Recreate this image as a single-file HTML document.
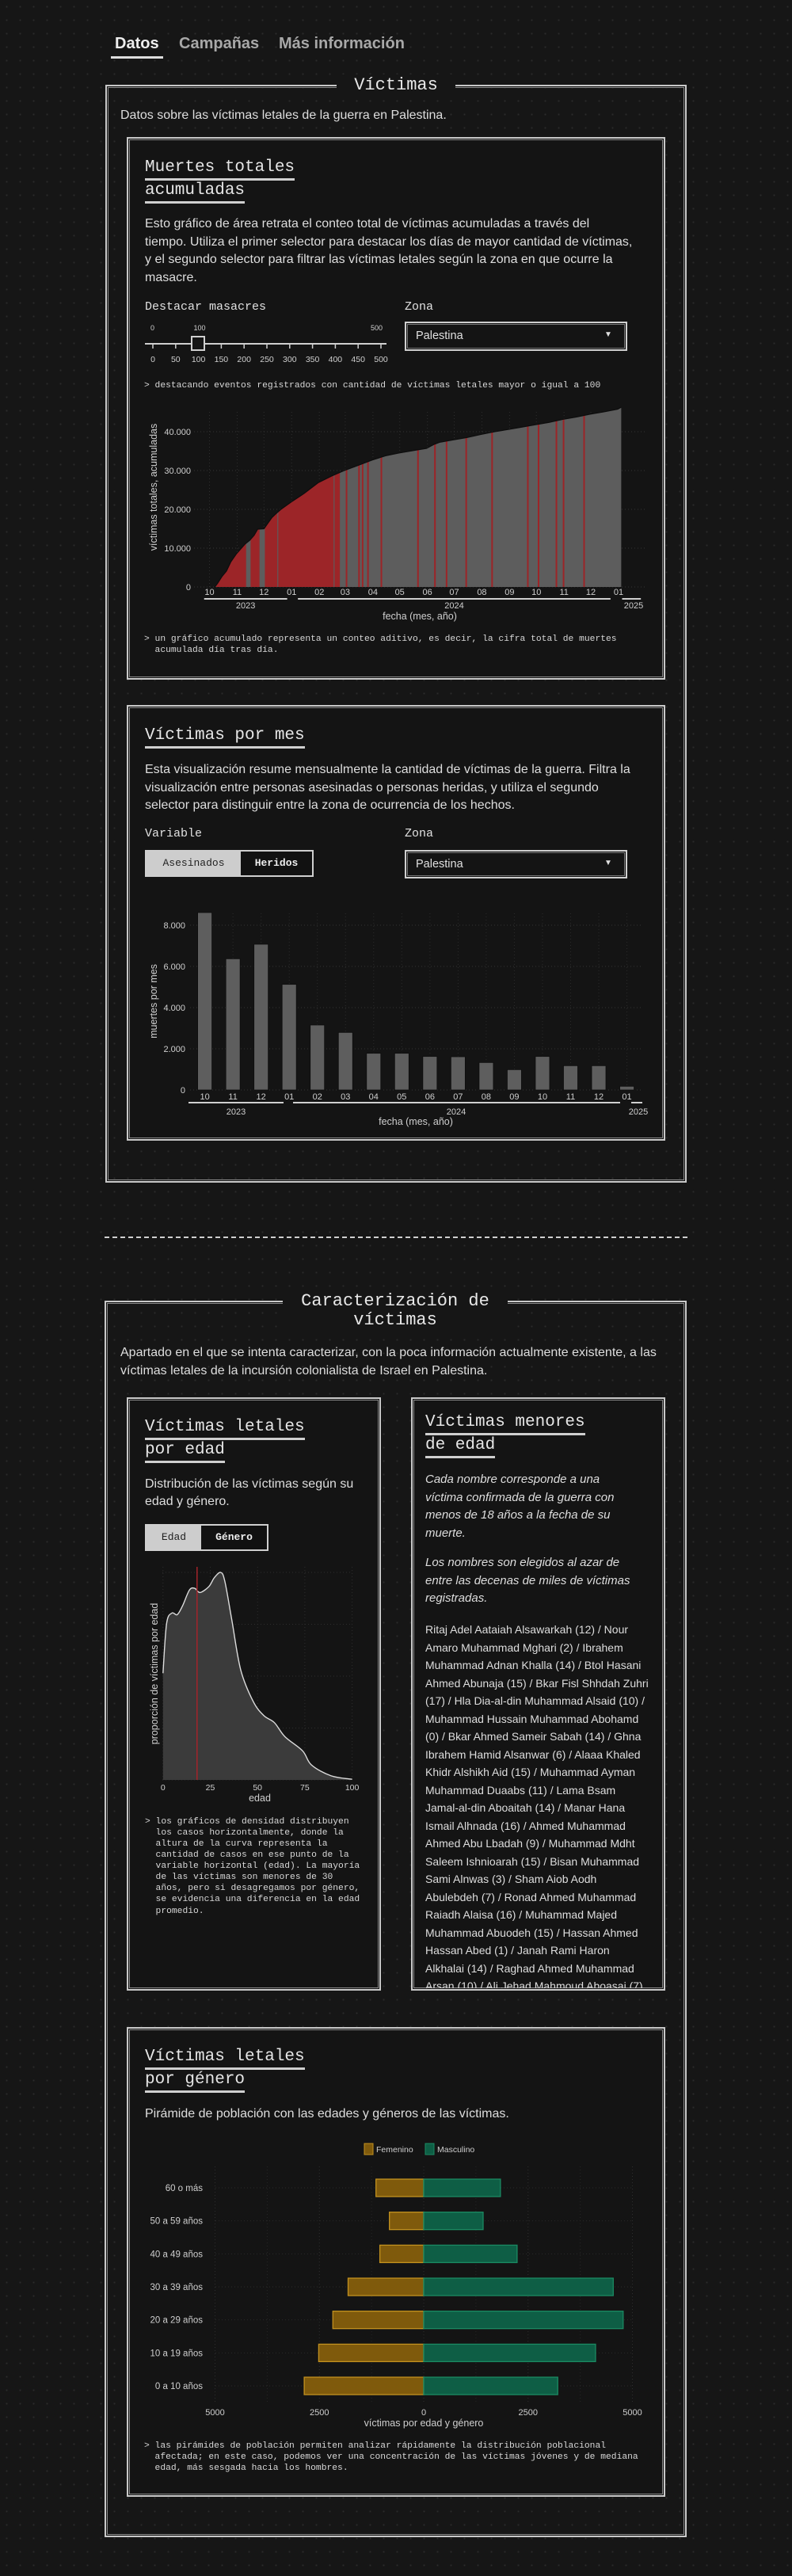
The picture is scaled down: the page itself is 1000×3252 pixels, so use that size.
<!DOCTYPE html>
<html lang="es"><head><meta charset="utf-8"><title>Víctimas</title>
<style>
html,body{margin:0;padding:0}
body{width:1000px;height:3252px;position:relative;overflow:hidden;background-color:#161616;background-image:radial-gradient(circle,#2b2b2b 1px,transparent 1.2px);background-size:17px 17px;color:#e2e2e2;font-family:"Liberation Sans",sans-serif}
.a{position:absolute;white-space:nowrap}
.mono{font-family:"Liberation Mono",monospace}
.box{position:absolute;border:2px solid #c9c9c9;box-shadow:inset 0 0 0 1px #151515,inset 0 0 0 2px #8a8a8a;box-sizing:border-box}
.card{background:#141414}
.h{font-family:"Liberation Mono",monospace;font-size:21px;line-height:26px;color:#e6e6e6;display:inline-block;border-bottom:3px solid #cfcfcf}
.p{font-size:16px;color:#dedede}
.note{font-family:"Liberation Mono",monospace;font-size:11.3px;color:#d8d8d8}
.lbl{font-family:"Liberation Mono",monospace;font-size:15px;line-height:20px;color:#e0e0e0}
.sel{position:absolute;border:2px solid #cfcfcf;box-shadow:inset 0 0 0 1px #151515,inset 0 0 0 2px #777;box-sizing:border-box;background:#141414;font-size:14.5px;color:#e0e0e0}
svg{position:absolute;left:0;overflow:visible}
svg text{font-family:"Liberation Sans",sans-serif;fill:#cfcfcf}
</style></head><body>

<div class="a" style="left:145px;top:44px;font-size:20px;font-weight:bold;color:#eee;line-height:22px">Datos</div>
<div class="a" style="left:140px;top:71px;width:66px;height:3px;background:#ddd"></div>
<div class="a" style="left:226px;top:44px;font-size:20px;font-weight:bold;color:#a8a8a8;line-height:22px">Campañas</div>
<div class="a" style="left:352px;top:44px;font-size:20px;font-weight:bold;color:#a8a8a8;line-height:22px">Más información</div>

<!-- Section 1 -->
<div class="box" style="left:133px;top:107px;width:734px;height:1386px"></div>
<div class="a mono" style="left:425px;width:150px;text-align:center;top:94px;font-size:22px;line-height:28px;background:#161616;color:#e8e8e8">Víctimas</div>
<div class="a p" style="left:152px;top:136px;line-height:20px">Datos sobre las víctimas letales de la guerra en Palestina.</div>

<div class="box card" style="left:160px;top:173px;width:680px;height:685px"></div>
<div class="a" style="left:183px;top:199px"><span class="h">Muertes totales</span><br><span class="h" style="margin-top:0">acumuladas</span></div>
<div class="a p" style="left:183px;top:272px;line-height:22.7px">Esto gráfico de área retrata el conteo total de víctimas acumuladas a través del<br>tiempo. Utiliza el primer selector para destacar los días de mayor cantidad de víctimas,<br>y el segundo selector para filtrar las víctimas letales según la zona en que ocurre la<br>masacre.</div>
<div class="a lbl" style="left:183px;top:378px">Destacar masacres</div>
<div class="a lbl" style="left:511px;top:378px">Zona</div>

<svg width="1000" height="70" style="top:400px">
<g transform="translate(0,-400)">
<text x="190" y="417" font-size="9">0</text><text x="252" y="417" font-size="9" text-anchor="middle">100</text><text x="483" y="417" font-size="9" text-anchor="end">500</text>
<line x1="183" y1="434" x2="488" y2="434" stroke="#cfcfcf" stroke-width="2"/>
<g id="slider-ticks"></g>
<rect x="242" y="425" width="16" height="17" fill="#151515" stroke="#cfcfcf" stroke-width="2"/>
</g></svg>

<div class="sel" style="left:511px;top:406px;width:281px;height:37px"><span class="a" style="left:12px;top:8px">Palestina</span><span class="a" style="left:250px;top:9px;font-size:10px">▼</span></div>
<div class="a note" style="left:182px;top:479px;line-height:16px">&gt; destacando eventos registrados con cantidad de víctimas letales mayor o igual a 100</div>

<svg id="area-svg" width="1000" height="310" style="top:500px"><g id="area-g" transform="translate(0,-500)"></g></svg>

<div class="a note" style="left:182px;top:800px;line-height:14px">&gt; un gráfico acumulado representa un conteo aditivo, es decir, la cifra total de muertes<br>&nbsp;&nbsp;acumulada día tras día.</div>

<div class="box card" style="left:160px;top:890px;width:680px;height:550px"></div>
<div class="a" style="left:183px;top:916px"><span class="h">Víctimas por mes</span></div>
<div class="a p" style="left:183px;top:961px;line-height:22.7px">Esta visualización resume mensualmente la cantidad de víctimas de la guerra. Filtra la<br>visualización entre personas asesinadas o personas heridas, y utiliza el segundo<br>selector para distinguir entre la zona de ocurrencia de los hechos.</div>
<div class="a lbl" style="left:183px;top:1043px">Variable</div>
<div class="a lbl" style="left:511px;top:1043px">Zona</div>
<div class="sel" style="left:183px;top:1073px;width:213px;height:34px"></div>
<div class="a mono" style="left:185px;top:1075px;width:119px;height:30px;background:#cdcdcd;color:#222;font-size:13px;line-height:30px;text-align:center">Asesinados</div>
<div class="a mono" style="left:304px;top:1075px;width:90px;height:30px;background:#111;color:#eee;font-weight:bold;font-size:13px;line-height:30px;text-align:center">Heridos</div>
<div class="sel" style="left:511px;top:1073px;width:281px;height:36px"><span class="a" style="left:12px;top:8px">Palestina</span><span class="a" style="left:250px;top:9px;font-size:10px">▼</span></div>

<svg id="bar-svg" width="1000" height="290" style="top:1140px"><g id="bar-g" transform="translate(0,-1140)"></g></svg>

<div class="a" style="left:132px;top:1561px;width:736px;border-top:2px dashed #cfcfcf"></div>

<!-- Section 2 -->
<div class="box" style="left:132px;top:1642px;width:735px;height:1561px"></div>
<div class="a mono" style="left:357px;width:284px;text-align:center;top:1631px;font-size:22px;line-height:24px;background:#161616;color:#e8e8e8">Caracterización de<br>víctimas</div>
<div class="a p" style="left:152px;top:1696px;line-height:23px">Apartado en el que se intenta caracterizar, con la poca información actualmente existente, a las<br>víctimas letales de la incursión colonialista de Israel en Palestina.</div>

<div class="box card" style="left:160px;top:1764px;width:321px;height:749px"></div>
<div class="a" style="left:183px;top:1789px"><span class="h">Víctimas letales</span><br><span class="h">por edad</span></div>
<div class="a p" style="left:183px;top:1863px;line-height:22px">Distribución de las víctimas según su<br>edad y género.</div>
<div class="sel" style="left:183px;top:1924px;width:156px;height:34px"></div>
<div class="a mono" style="left:185px;top:1926px;width:69px;height:30px;background:#cdcdcd;color:#222;font-size:13px;line-height:30px;text-align:center">Edad</div>
<div class="a mono" style="left:254px;top:1926px;width:83px;height:30px;background:#111;color:#eee;font-weight:bold;font-size:13px;line-height:30px;text-align:center">Género</div>
<svg id="dens-svg" width="1000" height="330" style="top:1960px"><g id="dens-g" transform="translate(0,-1960)"></g></svg>
<div class="a note" style="left:183px;top:2293px;line-height:14.06px">&gt; los gráficos de densidad distribuyen<br>&nbsp;&nbsp;los casos horizontalmente, donde la<br>&nbsp;&nbsp;altura de la curva representa la<br>&nbsp;&nbsp;cantidad de casos en ese punto de la<br>&nbsp;&nbsp;variable horizontal (edad). La mayoría<br>&nbsp;&nbsp;de las víctimas son menores de 30<br>&nbsp;&nbsp;años, pero si desagregamos por género,<br>&nbsp;&nbsp;se evidencia una diferencia en la edad<br>&nbsp;&nbsp;promedio.</div>

<div class="box card" style="left:519px;top:1764px;width:321px;height:749px;overflow:hidden"></div>
<div class="a" style="left:537px;top:1783px"><span class="h">Víctimas menores</span><br><span class="h">de edad</span></div>
<div class="a p" style="left:537px;top:1857px;line-height:22.6px;font-style:italic;font-size:15px">Cada nombre corresponde a una<br>víctima confirmada de la guerra con<br>menos de 18 años a la fecha de su<br>muerte.</div>
<div class="a p" style="left:537px;top:1962px;line-height:22.6px;font-style:italic;font-size:15px">Los nombres son elegidos al azar de<br>entre las decenas de miles de víctimas<br>registradas.</div>
<div class="a" style="left:537px;top:2046px;width:300px;height:464px;overflow:hidden;font-size:14px;line-height:22.5px;color:#dedede">Ritaj Adel Aataiah Alsawarkah (12) / Nour<br>Amaro Muhammad Mghari (2) / Ibrahem<br>Muhammad Adnan Khalla (14) / Btol Hasani<br>Ahmed Abunaja (15) / Bkar Fisl Shhdah Zuhri<br>(17) / Hla Dia-al-din Muhammad Alsaid (10) /<br>Muhammad Hussain Muhammad Abohamd<br>(0) / Bkar Ahmed Sameir Sabah (14) / Ghna<br>Ibrahem Hamid Alsanwar (6) / Alaaa Khaled<br>Khidr Alshikh Aid (15) / Muhammad Ayman<br>Muhammad Duaabs (11) / Lama Bsam<br>Jamal-al-din Aboaitah (14) / Manar Hana<br>Ismail Alhnada (16) / Ahmed Muhammad<br>Ahmed Abu Lbadah (9) / Muhammad Mdht<br>Saleem Ishnioarah (15) / Bisan Muhammad<br>Sami Alnwas (3) / Sham Aiob Aodh<br>Abulebdeh (7) / Ronad Ahmed Muhammad<br>Raiadh Alaisa (16) / Muhammad Majed<br>Muhammad Abuodeh (15) / Hassan Ahmed<br>Hassan Abed (1) / Janah Rami Haron<br>Alkhalai (14) / Raghad Ahmed Muhammad<br>Arsan (10) / Ali Jehad Mahmoud Aboasai (7)</div>

<div class="box card" style="left:160px;top:2559px;width:680px;height:593px"></div>
<div class="a" style="left:183px;top:2584px"><span class="h">Víctimas letales</span><br><span class="h">por género</span></div>
<div class="a p" style="left:183px;top:2658px;line-height:22px">Pirámide de población con las edades y géneros de las víctimas.</div>
<svg id="pyr-svg" width="1000" height="380" style="top:2700px"><g id="pyr-g" transform="translate(0,-2700)"></g></svg>
<div class="a note" style="left:182px;top:3081px;line-height:14px">&gt; las pirámides de población permiten analizar rápidamente la distribución poblacional<br>&nbsp;&nbsp;afectada; en este caso, podemos ver una concentración de las víctimas jóvenes y de mediana<br>&nbsp;&nbsp;edad, más sesgada hacia los hombres.</div>

<script>
// ---------- data: cumulative deaths ----------
const cumDates = ['2023-10-07','2023-10-10','2023-10-15','2023-10-20','2023-10-25','2023-10-31','2023-11-05','2023-11-10','2023-11-15','2023-11-20','2023-11-24','2023-12-01','2023-12-05','2023-12-10','2023-12-15','2023-12-20','2023-12-31','2024-01-15','2024-01-31','2024-02-15','2024-02-29','2024-03-15','2024-03-31','2024-04-15','2024-04-30','2024-05-15','2024-05-31','2024-06-08','2024-06-15','2024-06-30','2024-07-15','2024-07-31','2024-08-15','2024-08-31','2024-09-15','2024-09-30','2024-10-15','2024-10-31','2024-11-15','2024-11-30','2024-12-15','2024-12-31','2025-01-04'];
const cumValues = [0,900,2700,4100,6500,8500,9800,11100,12000,13300,14900,15000,16300,17900,19000,20000,21800,24100,26900,28600,30000,31300,32700,33800,34500,35100,35700,36700,37300,37900,38500,39300,40000,40600,41200,41800,42400,43200,43800,44500,45100,45800,46300];
const massacreRanges = [['2023-10-08','2023-11-10'],['2023-11-16','2023-11-25'],['2023-12-02','2023-12-15'],['2023-12-17','2024-02-16'],['2024-02-18','2024-02-23']];
const massacreDays = ['2024-03-02','2024-03-16','2024-03-20','2024-03-26','2024-04-10','2024-05-21','2024-06-09','2024-06-22','2024-07-14','2024-08-12','2024-09-21','2024-10-03','2024-10-23','2024-10-31','2024-11-23'];
const monthTicks = ['2023-10-01','2023-11-01','2023-12-01','2024-01-01','2024-02-01','2024-03-01','2024-04-01','2024-05-01','2024-06-01','2024-07-01','2024-08-01','2024-09-01','2024-10-01','2024-11-01','2024-12-01','2025-01-01'];
const monthLabels = ['10','11','12','01','02','03','04','05','06','07','08','09','10','11','12','01'];
const areaYTicks = [0,10000,20000,30000,40000];
const yearLabels = ['2023','2024','2025'];

// ---------- data: monthly deaths ----------
const barMonths = ['10','11','12','01','02','03','04','05','06','07','08','09','10','11','12','01'];
const barValues = [8615,6372,7077,5128,3154,2795,1782,1782,1628,1615,1333,987,1628,1179,1179,179];
const barYTicks = [0,2000,4000,6000,8000];

// ---------- data: age density ----------
const densAges = [0,1.9,4.7,7.5,10.3,14,16.8,19.6,24.3,27.1,30.5,32.7,36.4,41.1,47.7,53.3,58.9,64.5,73.8,78.5,88.8,100];
const densValues = [0.514,0.753,0.804,0.796,0.838,0.915,0.923,0.903,0.932,0.974,1.0,0.957,0.77,0.53,0.378,0.31,0.276,0.208,0.14,0.072,0.02,0.003];
const densXTicks = [0,25,50,75,100];
const medianAgeMark = 18;

// ---------- data: pyramid ----------
const pyrGroups = ['60 o más','50 a 59 años','40 a 49 años','30 a 39 años','20 a 29 años','10 a 19 años','0 a 10 años'];
const pyrFemale = [1144,822,1051,1812,2177,2516,2863];
const pyrMale = [1838,1423,2237,4541,4778,4117,3211];
const pyrXTicks = [-5000,-2500,0,2500,5000];
const sliderTicks = [0,50,100,150,200,250,300,350,400,450,500];

const NS='http://www.w3.org/2000/svg';
function mk(parent,tag,attrs){const e=document.createElementNS(NS,tag);for(const k in attrs)e.setAttribute(k,attrs[k]);parent.appendChild(e);return e;}
function fmt(v){return String(v).replace(/\B(?=(\d{3})+(?!\d))/g,'.');}

// slider ticks
(function(){
  const g=document.getElementById('slider-ticks');
  const sx=v=>193+v/500*288;
  sliderTicks.forEach(v=>{
    const l=mk(g,'line',{x1:sx(v),x2:sx(v),y1:434,y2:440,stroke:'#cfcfcf','stroke-width':1.5});
    
    
    const t=mk(g,'text',{x:sx(v),y:457,'font-size':10.5,'text-anchor':'middle'});
    
    
    t.textContent=v;
  });
})();

// area chart
(function(){
  const g=document.getElementById('area-g');
  const d0=Date.UTC(2023,9,1);
  const dayOf=s=>{const p=s.split('-').map(Number);return (Date.UTC(p[0],p[1]-1,p[2])-d0)/864e5;};
  const ax=s=>264.5+dayOf(s)*1.1277;
  const ay=v=>741-v*0.0049;
  areaYTicks.forEach(v=>{
    const gl=mk(g,'line',{x1:245,x2:815,y1:ay(v),y2:ay(v),stroke:'#333','stroke-dasharray':'1 3'});
    
    
    const t=mk(g,'text',{x:241,y:ay(v)+4,'font-size':11,'text-anchor':'end'});
    
    
    t.textContent=fmt(v);
  });
  monthTicks.forEach((m,i)=>{
    const gl=mk(g,'line',{x1:ax(m),x2:ax(m),y1:520,y2:741,stroke:'#2e2e2e','stroke-dasharray':'1 3'});
    
    
    const t=mk(g,'text',{x:ax(m),y:751,'font-size':11,'text-anchor':'middle'});
    
    
    t.textContent=monthLabels[i];
  });
  let d='M'+ax(cumDates[0])+',741';
  cumDates.forEach((s,i)=>{d+=' L'+ax(s).toFixed(2)+','+ay(cumValues[i]).toFixed(2);});
  d+=' L'+ax(cumDates[cumDates.length-1])+',741 Z';
  const cp=mk(g,'clipPath',{id:'areaClip'});mk(cp,'path',{d:d});
  const area=mk(g,'path',{d:d,fill:'#5d5d5d',stroke:'none'});
  
  
  const hg=mk(g,'g',{'clip-path':'url(#areaClip)'});
  massacreRanges.forEach(r=>{
    const x1=ax(r[0]),x2=ax(r[1])+1.13;
    const rc=mk(hg,'rect',{x:x1,y:500,width:x2-x1,height:241,fill:'#9c2528'});
    
    
  });
  massacreDays.forEach(s=>{
    const rc=mk(hg,'rect',{x:ax(s)-0.5,y:500,width:2,height:241,fill:'#9c2528'});
    
    
  });
  let top='M'+ax(cumDates[0])+','+ay(cumValues[0]);
  cumDates.forEach((s,i)=>{top+=' L'+ax(s).toFixed(2)+','+ay(cumValues[i]).toFixed(2);});
  const tl=mk(g,'path',{d:top,fill:'none',stroke:'#0d0d0d','stroke-width':1.2});
  
  
  const yrs=[['2023-09-25','2023-12-27'],['2024-01-08','2024-12-23'],['2025-01-05','2025-01-26']];
  yrs.forEach((r,i)=>{
    const l=mk(g,'line',{x1:ax(r[0]),x2:ax(r[1]),y1:756,y2:756,stroke:'#cfcfcf','stroke-width':2});
    
    
    const t=mk(g,'text',{x:i==2?800:(ax(r[0])+ax(r[1]))/2,y:768,'font-size':11,'text-anchor':'middle'});
    
    
    t.textContent=yearLabels[i];
  });
  const xt=mk(g,'text',{x:530,y:782,'font-size':12.5,'text-anchor':'middle'});
  
  
  xt.textContent='fecha (mes, año)';
  const yt=mk(g,'text',{x:0,y:0,'font-size':12.5,'text-anchor':'middle',transform:'translate(198,615) rotate(-90)'});
  
  
  yt.textContent='víctimas totales, acumuladas';
})();

// bar chart
(function(){
  const g=document.getElementById('bar-g');
  const bx=i=>258.6+i*35.53;
  const by=v=>1376-v*0.026;
  barYTicks.forEach(v=>{
    const gl=mk(g,'line',{x1:240,x2:811,y1:by(v),y2:by(v),stroke:'#333','stroke-dasharray':'1 3'});
    
    
    const t=mk(g,'text',{x:234,y:by(v)+4,'font-size':11,'text-anchor':'end'});
    
    
    t.textContent=fmt(v);
  });
  barValues.forEach((v,i)=>{
    const gl=mk(g,'line',{x1:bx(i),x2:bx(i),y1:1153,y2:1376,stroke:'#2b2b2b','stroke-dasharray':'1 3'});
    
    
  });
  barValues.forEach((v,i)=>{
    const r=mk(g,'rect',{x:bx(i)-9,y:by(v),width:18,height:1376-by(v),fill:'#5e5e5e',stroke:'#0d0d0d','stroke-width':0.8});
    
    
    const t=mk(g,'text',{x:bx(i),y:1388,'font-size':11,'text-anchor':'middle'});
    
    
    t.textContent=barMonths[i];
  });
  const yrs=[[238,358],[370,783],[797,811]];
  const yx=[298,576,806];
  yrs.forEach((r,i)=>{
    const l=mk(g,'line',{x1:r[0],x2:r[1],y1:1392,y2:1392,stroke:'#cfcfcf','stroke-width':2});
    
    
    const t=mk(g,'text',{x:yx[i],y:1407,'font-size':11,'text-anchor':'middle'});
    
    
    t.textContent=yearLabels[i];
  });
  const xt=mk(g,'text',{x:525,y:1420,'font-size':12.5,'text-anchor':'middle'});
  
  
  xt.textContent='fecha (mes, año)';
  const yt=mk(g,'text',{x:0,y:0,'font-size':12.5,'text-anchor':'middle',transform:'translate(198,1264) rotate(-90)'});
  
  
  yt.textContent='muertes por mes';
})();

// density chart
(function(){
  const g=document.getElementById('dens-g');
  const dx=a=>205.8+a*2.388;
  const dy=v=>2247-v*262;
  [0,0.25,0.5,0.75,1].forEach(v=>{
    const gl=mk(g,'line',{x1:205,x2:445,y1:dy(v),y2:dy(v),stroke:'#2e2e2e','stroke-dasharray':'1 3'});
    
    
  });
  densXTicks.forEach(a=>{
    const gl=mk(g,'line',{x1:dx(a),x2:dx(a),y1:1978,y2:2247,stroke:'#2e2e2e','stroke-dasharray':'1 3'});
    
    
    const t=mk(g,'text',{x:dx(a),y:2260,'font-size':10.5,'text-anchor':'middle'});
    
    
    t.textContent=a;
  });
  const pts=densAges.map((a,i)=>[dx(a),dy(densValues[i])]);
  let d='M'+pts[0][0]+','+pts[0][1];
  for(let i=0;i<pts.length-1;i++){
    const p0=pts[Math.max(0,i-1)],p1=pts[i],p2=pts[i+1],p3=pts[Math.min(pts.length-1,i+2)];
    const c1=[p1[0]+(p2[0]-p0[0])/6,p1[1]+(p2[1]-p0[1])/6];
    const c2=[p2[0]-(p3[0]-p1[0])/6,p2[1]-(p3[1]-p1[1])/6];
    d+=' C'+c1.join(',')+' '+c2.join(',')+' '+p2.join(',');
  }
  const fill=mk(g,'path',{d:d+' L'+pts[pts.length-1][0]+',2247 L'+pts[0][0]+',2247 Z',fill:'#3b3b3b'});
  
  
  const line=mk(g,'path',{d:d,fill:'none',stroke:'#dcdcdc','stroke-width':1.4});
  
  
  const m=mk(g,'line',{x1:dx(medianAgeMark),x2:dx(medianAgeMark),y1:1978,y2:2247,stroke:'#a3242a','stroke-width':1.5});
  
  
  const xt=mk(g,'text',{x:328,y:2274,'font-size':12.5,'text-anchor':'middle'});
  
  
  xt.textContent='edad';
  const yt=mk(g,'text',{x:0,y:0,'font-size':12.5,'text-anchor':'middle',transform:'translate(199,2113) rotate(-90)'});
  
  
  yt.textContent='proporción de víctimas por edad';
})();

// pyramid
(function(){
  const g=document.getElementById('pyr-g');
  const px=v=>535+v*0.0527;
  const py=i=>2762+i*41.67;
  pyrXTicks.forEach(v=>{
    const gl=mk(g,'line',{x1:px(v),x2:px(v),y1:2735,y2:3035,stroke:'#2e2e2e','stroke-dasharray':'1 3'});
    
    
    const t=mk(g,'text',{x:px(v),y:3049,'font-size':11,'text-anchor':'middle'});
    
    
    t.textContent=Math.abs(v);
  });
  [-3750,-1250,1250,3750].forEach(v=>{
    const gl=mk(g,'line',{x1:px(v),x2:px(v),y1:2735,y2:3035,stroke:'#262626','stroke-dasharray':'1 3'});
    
    
  });
  pyrGroups.forEach((grp,i)=>{
    const hl=mk(g,'line',{x1:272,x2:800,y1:py(i),y2:py(i),stroke:'#2a2a2a','stroke-dasharray':'1 3'});
    
    
    const f=mk(g,'rect',{x:px(-pyrFemale[i]),y:py(i)-11,width:px(0)-px(-pyrFemale[i]),height:22,fill:'#7f5a0c',stroke:'#c2911f','stroke-width':1.3});
    
    
    const mm=mk(g,'rect',{x:px(0),y:py(i)-11,width:px(pyrMale[i])-px(0),height:22,fill:'#0e5e45',stroke:'#1b8a62','stroke-width':1.3});
    
    
    const t=mk(g,'text',{x:256,y:py(i)+4,'font-size':11.5,'text-anchor':'end'});
    
    
    t.textContent=grp;
  });
  const lf=mk(g,'rect',{x:460,y:2706,width:11,height:14,fill:'#7f5a0c',stroke:'#c2911f'});
  
  
  const lft=mk(g,'text',{x:475,y:2717,'font-size':10.5});
  
  
  lft.textContent='Femenino';
  const lm=mk(g,'rect',{x:537,y:2706,width:11,height:14,fill:'#0e5e45',stroke:'#1b8a62'});
  
  
  const lmt=mk(g,'text',{x:552,y:2717,'font-size':10.5});
  
  
  lmt.textContent='Masculino';
  const xt=mk(g,'text',{x:535,y:3063,'font-size':12.5,'text-anchor':'middle'});
  
  
  xt.textContent='víctimas por edad y género';
})();
</script>
</body></html>
